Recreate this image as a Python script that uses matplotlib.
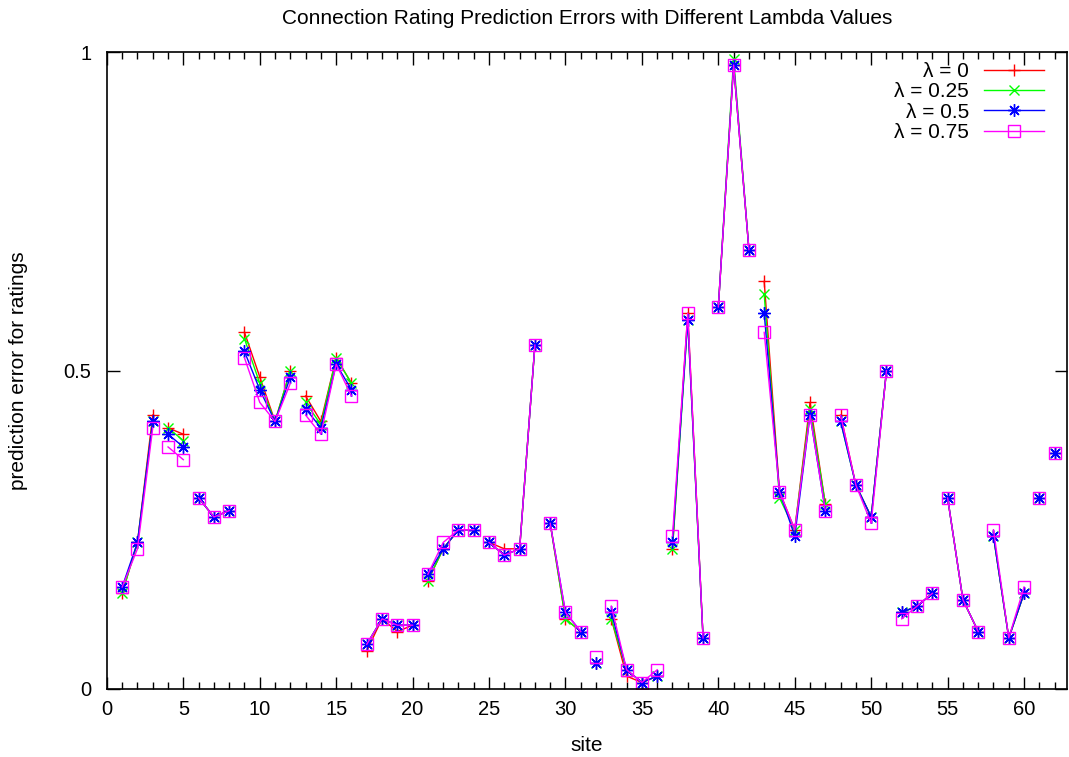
import numpy as np
import matplotlib
matplotlib.use("Agg")
import matplotlib.pyplot as plt
from matplotlib.ticker import MultipleLocator, FixedLocator

plt.rcParams['font.family'] = ['Liberation Sans', 'DejaVu Sans']

# site numbers and the prediction error for each lambda
sites = list(range(1, 63))

err_l0 = [0.15, 0.23, 0.43, 0.41, 0.40, 0.30, 0.27, 0.28, 0.56, 0.49,
          0.42, 0.50, 0.46, 0.42, 0.52, 0.48, 0.06, 0.11, 0.09, 0.10,
          0.17, 0.22, 0.25, 0.25, 0.23, 0.22, 0.22, 0.54, 0.26, 0.11,
          0.09, 0.04, 0.11, 0.02, 0.01, 0.02, 0.22, 0.59, 0.08, 0.60,
          0.98, 0.69, 0.64, 0.31, 0.25, 0.45, 0.29, 0.43, 0.32, 0.27,
          0.50, 0.12, 0.13, 0.15, 0.30, 0.14, 0.09, 0.24, 0.08, 0.15,
          0.30, 0.37]
err_l025 = [0.15, 0.23, 0.42, 0.41, 0.39, 0.30, 0.27, 0.28, 0.55, 0.48,
            0.42, 0.50, 0.45, 0.415, 0.52, 0.48, 0.07, 0.11, 0.10, 0.10,
            0.17, 0.22, 0.25, 0.25, 0.23, 0.21, 0.22, 0.54, 0.26, 0.11,
            0.09, 0.04, 0.11, 0.03, 0.01, 0.02, 0.22, 0.58, 0.08, 0.60,
            0.99, 0.69, 0.62, 0.30, 0.25, 0.44, 0.29, 0.42, 0.32, 0.27,
            0.50, 0.12, 0.13, 0.15, 0.30, 0.14, 0.09, 0.24, 0.08, 0.15,
            0.30, 0.37]
err_l05 = [0.16, 0.23, 0.42, 0.40, 0.38, 0.30, 0.27, 0.28, 0.53, 0.47,
           0.42, 0.49, 0.44, 0.41, 0.51, 0.47, 0.07, 0.11, 0.10, 0.10,
           0.18, 0.22, 0.25, 0.25, 0.23, 0.21, 0.22, 0.54, 0.26, 0.12,
           0.09, 0.04, 0.12, 0.03, 0.01, 0.02, 0.23, 0.58, 0.08, 0.60,
           0.98, 0.69, 0.59, 0.31, 0.24, 0.43, 0.28, 0.42, 0.32, 0.27,
           0.50, 0.12, 0.13, 0.15, 0.30, 0.14, 0.09, 0.24, 0.08, 0.15,
           0.30, 0.37]
err_l075 = [0.16, 0.22, 0.41, 0.38, 0.36, 0.30, 0.27, 0.28, 0.52, 0.45,
            0.42, 0.48, 0.43, 0.40, 0.51, 0.46, 0.07, 0.11, 0.10, 0.10,
            0.18, 0.23, 0.25, 0.25, 0.23, 0.21, 0.22, 0.54, 0.26, 0.12,
            0.09, 0.05, 0.13, 0.03, 0.01, 0.03, 0.24, 0.59, 0.08, 0.60,
            0.98, 0.69, 0.56, 0.31, 0.25, 0.43, 0.28, 0.43, 0.32, 0.26,
            0.50, 0.11, 0.13, 0.15, 0.30, 0.14, 0.09, 0.25, 0.08, 0.16,
            0.30, 0.37]

# the data file has blank lines before these sites, so lines break there
segment_starts = [1, 4, 6, 9, 13, 17, 21, 25, 29, 32, 33, 37, 40, 43,
                  48, 52, 55, 58, 61, 62]

labels = ['λ = 0', 'λ = 0.25', 'λ = 0.5', 'λ = 0.75']

# gnuplot-like point types
asterisk = (8, 2, 0)
styles = [('#ff0000', '+', 9), ('#00ff00', 'x', 7),
          ('#0000ff', asterisk, 9), ('#ff00ff', 's', 8)]

fig = plt.figure(figsize=(10.69, 7.57), dpi=100)
ax = fig.add_axes([0.1, 0.09, 0.898, 0.841])

x = np.array(sites)
bounds = segment_starts + [sites[-1] + 1]
for vals, label, (color, marker, ms) in zip(
        [err_l0, err_l025, err_l05, err_l075], labels, styles):
    y = np.array(vals)
    for i in range(len(segment_starts)):
        mask = (x >= bounds[i]) & (x < bounds[i + 1])
        ax.plot(x[mask], y[mask], color=color, lw=1.0,
                marker=marker, markersize=ms, markeredgewidth=1.0,
                markerfacecolor='none' if marker == 's' else color,
                label=label if i == 0 else None)

ax.set_xlim(0, 62.8)
ax.set_ylim(0, 1)
ax.xaxis.set_major_locator(MultipleLocator(5))
ax.xaxis.set_minor_locator(MultipleLocator(1))
ax.yaxis.set_major_locator(FixedLocator([0, 0.5, 1]))
ax.set_yticklabels(['0', '0.5', '1'])
ax.tick_params(which='both', direction='in', top=True, right=True,
               labelsize=14.5, width=1.0)
ax.tick_params(axis='x', pad=8)
ax.tick_params(axis='y', pad=11)
ax.tick_params(which='major', length=9)
ax.tick_params(which='minor', length=5)
for s in ax.spines.values():
    s.set_linewidth(1.2)

ax.set_xlabel('site', fontsize=15, labelpad=12)
ax.set_ylabel('prediction error for ratings', fontsize=15, labelpad=26)
ax.set_title('Connection Rating Prediction Errors with Different Lambda Values',
             fontsize=15, pad=20)

ax.legend(loc='upper right', bbox_to_anchor=(0.985, 0.998), frameon=False,
          markerfirst=False, fontsize=15, handlelength=2.9,
          handletextpad=0.7, labelspacing=0.07, borderaxespad=0.0)

fig.savefig('out.png', dpi=100)
